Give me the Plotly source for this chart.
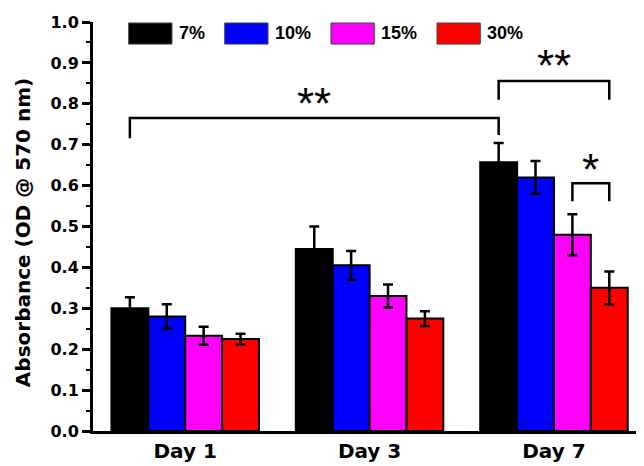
import plotly.graph_objects as go

days = ["Day 1", "Day 3", "Day 7"]
series_names = ["7%", "10%", "15%", "30%"]
series_colors = ["#000000", "#0000ff", "#ff00ff", "#ff0000"]
vals_7 = [0.300, 0.445, 0.657]
vals_10 = [0.280, 0.405, 0.620]
vals_15 = [0.233, 0.330, 0.480]
vals_30 = [0.225, 0.275, 0.350]
err_7 = [0.027, 0.055, 0.047]
err_10 = [0.030, 0.035, 0.040]
err_15 = [0.022, 0.028, 0.050]
err_30 = [0.013, 0.018, 0.040]
y_ticks = [0.0, 0.1, 0.2, 0.3, 0.4, 0.5, 0.6, 0.7, 0.8, 0.9, 1.0]

values = [vals_7, vals_10, vals_15, vals_30]
errors = [err_7, err_10, err_15, err_30]

FONT = "DejaVu Sans, sans-serif"
FONT2 = "Liberation Sans, Arial, sans-serif"
fig = go.Figure()
for name, col, v, e in zip(series_names, series_colors, values, errors):
    fig.add_trace(go.Bar(
        x=[0, 1, 2], y=v, name=name,
        marker=dict(color=col, line=dict(color="black", width=2)),
        error_y=dict(type="data", array=e, visible=True, color="black", thickness=2.5, width=5),
        showlegend=False,
    ))

# significance brackets (data coords: category index with bar offsets)
off = [-0.3, -0.1, 0.1, 0.3]
line = dict(color="black", width=2.5)
def bracket(x0, x1, y_low0, y_low1, y_top, label, ly, size):
    fig.add_shape(type="path", xref="x", yref="y",
                  path=f"M {x0},{y_low0} L {x0},{y_top} L {x1},{y_top} L {x1},{y_low1}",
                  line=line)
    fig.add_annotation(x=(x0 + x1) / 2, y=ly, xref="x", yref="y", text=label,
                       showarrow=False, font=dict(family=FONT2, size=size, color="black"),
                       yanchor="middle")

bracket(0 + off[0], 2 + off[0], 0.716, 0.724, 0.765, "**", 0.80, 44)
bracket(2 + off[0], 2 + off[3], 0.81, 0.81, 0.856, "**", 0.893, 44)
bracket(2 + off[2], 2 + off[3], 0.562, 0.562, 0.606, "*", 0.64, 44)

# custom legend with wide swatches
leg_x = [0.0643, 0.2373, 0.4288, 0.6198]
for i, (name, col) in enumerate(zip(series_names, series_colors)):
    x0 = leg_x[i]
    fig.add_shape(type="rect", xref="paper", yref="paper",
                  x0=x0, x1=x0 + 0.078, y0=0.946, y1=0.9976,
                  fillcolor=col, line=dict(color="#444", width=1))
    fig.add_annotation(x=x0 + 0.087, y=0.972, xref="paper", yref="paper", text=f"<b>{name}</b>",
                       showarrow=False, xanchor="left", yanchor="middle",
                       font=dict(family=FONT2, size=18, color="black"))

# y-axis title
fig.add_annotation(x=-0.127, y=0.485, xref="paper", yref="paper", textangle=-90,
                   text="<b>Absorbance (OD @ 570 nm)</b>", showarrow=False,
                   xanchor="center", yanchor="middle",
                   font=dict(family=FONT, size=20, color="black"))

fig.update_layout(
    width=644, height=466,
    margin=dict(l=85, r=4, t=14, b=43, autoexpand=False),
    paper_bgcolor="white", plot_bgcolor="white",
    barmode="group", bargap=0.2, bargroupgap=0,
    font=dict(family=FONT, color="black"),
    xaxis=dict(range=[-0.5, 2.51], showline=True, linecolor="black", linewidth=3,
               ticks="", tickfont=dict(family=FONT, size=20, color="black"),
               tickvals=[0, 1, 2], ticktext=[f"<b>{d}</b>" for d in days],
               showgrid=False, zeroline=False, automargin=False),
    yaxis=dict(range=[0, 1.0], showline=True, linecolor="black", linewidth=3,
               tickvals=y_ticks, ticktext=[f"<b>{t:.1f}</b>" for t in y_ticks],
               ticks="outside", ticklen=8, tickwidth=2.5, tickcolor="black",
               minor=dict(ticks="outside", ticklen=4, tickwidth=2, tickcolor="black", dtick=0.05),
               tickfont=dict(family=FONT, size=16, color="black"),
               showgrid=False, zeroline=False, automargin=False),
)
fig.write_html("out.html")
